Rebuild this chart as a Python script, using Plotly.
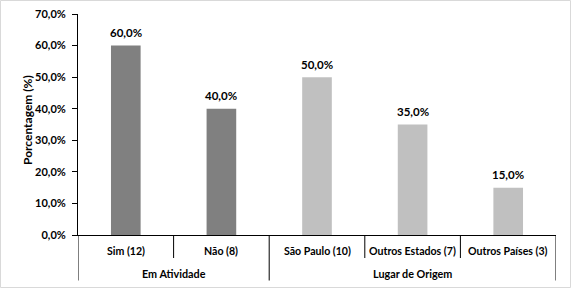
import plotly.graph_objects as go

categories = ["Sim (12)", "Não (8)", "São Paulo (10)", "Outros Estados (7)", "Outros Países (3)"]
groups = ["Em Atividade", "Em Atividade", "Lugar de Origem", "Lugar de Origem", "Lugar de Origem"]
values = [0.60, 0.40, 0.50, 0.35, 0.15]
colors = ["#808080", "#808080", "#C0C0C0", "#C0C0C0", "#C0C0C0"]
y_title = "Porcentagem (%)"

FONT = "Lato"
BLACK = "#000000"
n = len(categories)
xs = [i + 0.5 for i in range(n)]

W, H = 572, 289
L, R, T, B = 78, 16, 14, 54
pw = W - L - R
ph = H - T - B

def px_to_paper_x(p):
    return (p - L) / pw

def px_to_paper_y(p):
    return (H - B - p) / ph

def fnt(size=11):
    return dict(family=FONT, size=size, color=BLACK, weight="bold")

fig = go.Figure()
fig.add_trace(go.Bar(
    x=xs, y=values, width=0.31, marker=dict(color=colors, line=dict(width=0)),
    hoverinfo="skip",
))

shapes = []
annotations = []
# value labels
for x, v in zip(xs, values):
    annotations.append(dict(x=x, xref="x", y=v, yref="y", yshift=13,
                            text=f"{v*100:.1f}%".replace(".", ","), showarrow=False,
                            xanchor="center", yanchor="middle", font=fnt(11.5)))
# category labels
for x, c in zip(xs, categories):
    annotations.append(dict(x=x, xref="x", y=px_to_paper_y(251), yref="paper",
                            text=c, showarrow=False, xanchor="center", yanchor="middle",
                            font=fnt(10.6)))
# dividers between categories
for i in range(n + 1):
    first = i == 0 or i == n or groups[i - 1] != groups[i]
    bottom = 280.5 if first else 258
    shapes.append(dict(type="line", xref="x", yref="paper", x0=i, x1=i,
                       y0=0, y1=px_to_paper_y(bottom), line=dict(color=BLACK, width=1)))
# group labels
start = 0
for i in range(1, n + 1):
    if i == n or groups[i] != groups[start]:
        annotations.append(dict(x=(start + i) / 2, xref="x", y=px_to_paper_y(273), yref="paper",
                                text=groups[start], showarrow=False, xanchor="center", yanchor="middle",
                                font=fnt(10.8)))
        start = i
# y title
annotations.append(dict(x=px_to_paper_x(28), xref="paper", y=px_to_paper_y(120), yref="paper",
                        text=y_title, textangle=-90, showarrow=False,
                        xanchor="center", yanchor="middle", font=fnt(12)))
# outer border
shapes.append(dict(type="rect", xref="paper", yref="paper",
                   x0=px_to_paper_x(0.5), x1=px_to_paper_x(W - 1.5),
                   y0=px_to_paper_y(H - 1.5), y1=px_to_paper_y(0.5),
                   line=dict(color="#D9D9D9", width=1), layer="below"))

fig.update_layout(
    width=W, height=H,
    margin=dict(l=L, r=R, t=T, b=B, pad=0, autoexpand=False),
    paper_bgcolor="#FFFFFF", plot_bgcolor="#FFFFFF",
    showlegend=False,
    separators=",.",
    font=fnt(),
    xaxis=dict(range=[0, n], showgrid=False, zeroline=False, showticklabels=False,
               showline=True, linecolor=BLACK, linewidth=1, fixedrange=True, automargin=False),
    yaxis=dict(range=[0, 0.7], dtick=0.1, tickformat=".1%", showgrid=False, zeroline=False,
               showline=True, linecolor=BLACK, linewidth=1, automargin=False, fixedrange=True,
               ticks="outside", ticklen=5, tickcolor=BLACK, ticklabelstandoff=4,
               tickfont=fnt(11)),
    shapes=shapes, annotations=annotations,
)

fig.write_html("out.html", config={"displayModeBar": False},
               post_script="document.body.style.margin='0';")
